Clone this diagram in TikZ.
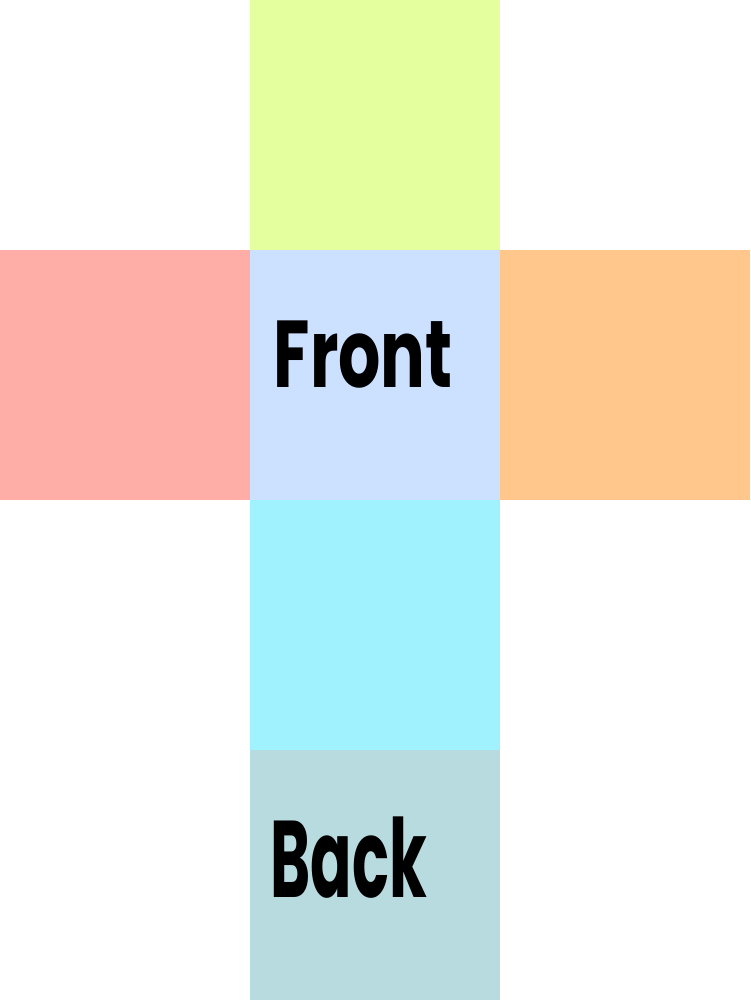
\documentclass[tikz,border=0pt]{standalone}
\usepackage{fontspec}
\newfontfamily\handfont{Poppins}
\definecolor{ctop}{HTML}{E3FF9E}
\definecolor{cleft}{HTML}{FFADA6}
\definecolor{cfront}{HTML}{CCE0FF}
\definecolor{cright}{HTML}{FFC78C}
\definecolor{cbottom}{HTML}{A1F2FF}
\definecolor{cback}{HTML}{B8DBE0}
\begin{document}
\begin{tikzpicture}[x=0.01cm,y=-0.01cm,
  face/.style={minimum width=2.5cm,minimum height=2.5cm,inner sep=0pt,outer sep=0pt,draw=none},
  lbl/.style={anchor=base west,inner sep=0pt,text=black}]
\useasboundingbox (0,0) rectangle (750,1000);
\node[face,fill=ctop] (top) at (375,125) {};
\node[face,fill=cleft] (left) at (125,375) {};
\node[face,fill=cfront] (front) at (375,375) {};
\node[face,fill=cright] (right) at (625,375) {};
\node[face,fill=cbottom] (bottom) at (375,625) {};
\node[face,fill=cback] (back) at (375,875) {};
\node[lbl] (tfront) at (273,387) {\scalebox{0.7}[1]{\handfont\bfseries\fontsize{27}{30}\selectfont Front}};
\node[lbl] (tback) at (270,897) {\scalebox{0.56}[1]{\handfont\bfseries\fontsize{31}{34}\selectfont Back}};
\end{tikzpicture}
\end{document}
